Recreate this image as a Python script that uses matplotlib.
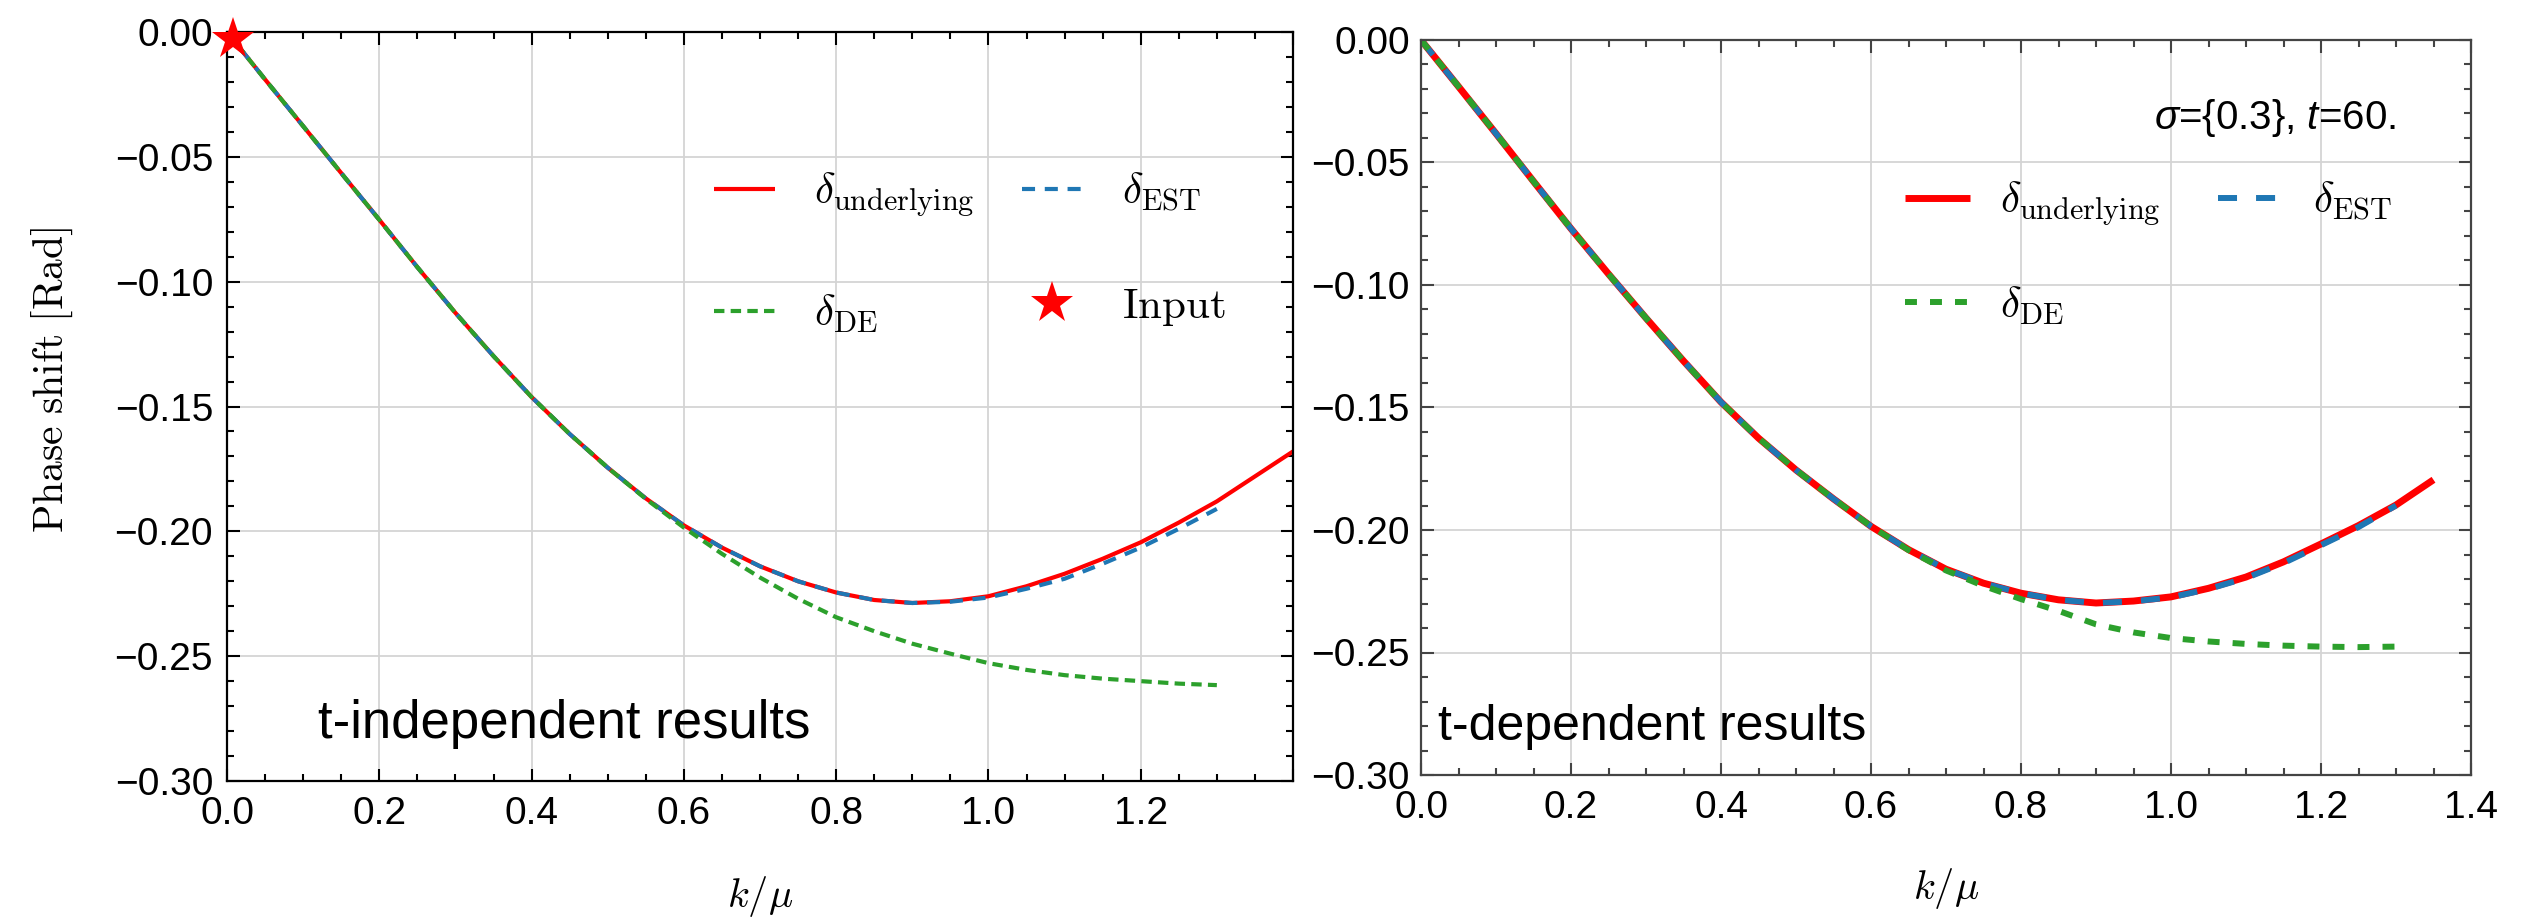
import matplotlib
matplotlib.use('Agg')
import matplotlib.pyplot as plt
from matplotlib.ticker import MultipleLocator, FixedLocator, FixedFormatter

plt.rcParams['mathtext.fontset'] = 'cm'
plt.rcParams['font.family'] = ['Liberation Sans', 'DejaVu Sans']
plt.rcParams['lines.scale_dashes'] = False
plt.rcParams['mathtext.rm'] = 'Liberation Sans'
plt.rcParams['mathtext.it'] = 'Liberation Sans:italic'

# ---------------- data: left panel (t-independent) ----------------
k_left = [0.00, 0.05, 0.10, 0.15, 0.20, 0.25, 0.30, 0.35, 0.40, 0.45, 0.50,
          0.55, 0.60, 0.65, 0.70, 0.75, 0.80, 0.85, 0.90, 0.95, 1.00, 1.05,
          1.10, 1.15, 1.20, 1.25, 1.30, 1.35, 1.40]
under_left = [0.0, -0.019, -0.0377, -0.0565, -0.0752, -0.0942, -0.1125, -0.1298,
              -0.1462, -0.1610, -0.1745, -0.1868, -0.1976, -0.2065, -0.2140,
              -0.2200, -0.2245, -0.2275, -0.2287, -0.2280, -0.2260, -0.2220,
              -0.2170, -0.2110, -0.2044, -0.1965, -0.1880, -0.1780, -0.1680]
k_left_est = [0.00, 0.05, 0.10, 0.15, 0.20, 0.25, 0.30, 0.35, 0.40, 0.45, 0.50,
              0.55, 0.60, 0.65, 0.70, 0.75, 0.80, 0.85, 0.90, 0.95, 1.00, 1.05,
              1.10, 1.15, 1.20, 1.25, 1.30]
est_left = [0.0, -0.019, -0.0377, -0.0565, -0.0752, -0.0942, -0.1125, -0.1298,
            -0.1462, -0.1610, -0.1745, -0.1868, -0.1976, -0.2065, -0.2140,
            -0.2200, -0.2245, -0.2275, -0.2287, -0.2282, -0.2265, -0.2230,
            -0.2190, -0.2130, -0.2065, -0.1990, -0.1910]
de_left = [0.0, -0.019, -0.0377, -0.0565, -0.0752, -0.0942, -0.1125, -0.1298,
           -0.1462, -0.1610, -0.1745, -0.1870, -0.1985, -0.2090, -0.2185,
           -0.2270, -0.2344, -0.2400, -0.2450, -0.2490, -0.2528, -0.2555,
           -0.2576, -0.2590, -0.2600, -0.2610, -0.2616]
input_k = [0.008]
input_delta = [-0.003]

# ---------------- data: right panel (t-dependent) ----------------
k_right = [0.00, 0.05, 0.10, 0.15, 0.20, 0.25, 0.30, 0.35, 0.40, 0.45, 0.50,
           0.55, 0.60, 0.65, 0.70, 0.75, 0.80, 0.85, 0.90, 0.95, 1.00, 1.05,
           1.10, 1.15, 1.20, 1.25, 1.30, 1.35]
under_right = [0.0, -0.0190, -0.0382, -0.0577, -0.0770, -0.0955, -0.1135, -0.1310,
               -0.1478, -0.1625, -0.1755, -0.1873, -0.1985, -0.2080, -0.2160,
               -0.2217, -0.2258, -0.2285, -0.2298, -0.2290, -0.2273, -0.2238,
               -0.2192, -0.2130, -0.2057, -0.1982, -0.1898, -0.1795]
k_right_short = [0.00, 0.05, 0.10, 0.15, 0.20, 0.25, 0.30, 0.35, 0.40, 0.45, 0.50,
                 0.55, 0.60, 0.65, 0.70, 0.75, 0.80, 0.85, 0.90, 0.95, 1.00, 1.05,
                 1.10, 1.15, 1.20, 1.25, 1.30]
est_right = [0.0, -0.0190, -0.0382, -0.0577, -0.0770, -0.0955, -0.1135, -0.1310,
             -0.1478, -0.1625, -0.1755, -0.1873, -0.1985, -0.2080, -0.2160,
             -0.2217, -0.2258, -0.2285, -0.2298, -0.2291, -0.2275, -0.2241,
             -0.2196, -0.2135, -0.2062, -0.1988, -0.1900]
de_right = [0.0, -0.0190, -0.0382, -0.0577, -0.0770, -0.0955, -0.1135, -0.1310,
            -0.1478, -0.1625, -0.1755, -0.1873, -0.1985, -0.2082, -0.2165,
            -0.2228, -0.2282, -0.2330, -0.2385, -0.2418, -0.2441, -0.2455,
            -0.2465, -0.2472, -0.2476, -0.2478, -0.2476]

# ---------------- ticks / labels ----------------
x_ticks = [0.0, 0.2, 0.4, 0.6, 0.8, 1.0, 1.2, 1.4]
x_labels_left = ['0.0', '0.2', '0.4', '0.6', '0.8', '1.0', '1.2', '']
x_labels_right = ['0.0', '0.2', '0.4', '0.6', '0.8', '1.0', '1.2', '1.4']
y_ticks = [0.0, -0.05, -0.10, -0.15, -0.20, -0.25, -0.30]
y_labels = ['0.00', '\u22120.05', '\u22120.10', '\u22120.15', '\u22120.20',
            '\u22120.25', '\u22120.30']

RED = '#ff0000'
BLUE = '#1f77b4'
GREEN = '#2ca02c'

fig = plt.figure(figsize=(25.24, 9.18), dpi=100)
axL = fig.add_axes([227 / 2524, (918 - 781) / 918, 1066 / 2524, 749 / 918])
axR = fig.add_axes([1421 / 2524, (918 - 775) / 918, 1050 / 2524, 735 / 918])


def style_axes(ax, xlabels, frame_color, pad_y):
    ax.set_xlim(0, 1.4)
    ax.set_ylim(-0.30, 0.0)
    ax.xaxis.set_major_locator(FixedLocator(x_ticks))
    ax.xaxis.set_major_formatter(FixedFormatter(xlabels))
    ax.yaxis.set_major_locator(FixedLocator(y_ticks))
    ax.yaxis.set_major_formatter(FixedFormatter(y_labels))
    ax.xaxis.set_minor_locator(MultipleLocator(0.05))
    ax.yaxis.set_minor_locator(MultipleLocator(0.01))
    ax.tick_params(which='both', direction='in', top=True, right=True,
                   color=frame_color, width=1.5)
    ax.tick_params(which='major', length=9)
    ax.tick_params(which='minor', length=5)
    ax.tick_params(axis='x', which='major', labelsize=28, pad=11)
    ax.tick_params(axis='y', which='major', labelsize=28, pad=pad_y)
    for s in ax.spines.values():
        s.set_color(frame_color)
        s.set_linewidth(1.6)
    ax.grid(True, which='major', color='#d4d4d4', linewidth=1.3)
    ax.set_axisbelow(True)
    ax.set_xlabel(r'$k/\mu$', fontsize=29)
    ax.xaxis.set_label_coords(0.5, -0.124)


style_axes(axL, x_labels_left, 'black', 10)
style_axes(axR, x_labels_right, '#444444', 8)

# ---- left panel curves ----
lL1, = axL.plot(k_left, under_left, color=RED, lw=3.0, solid_capstyle='butt',
                label=r'$\delta_{\mathrm{underlying}}$')
lL2, = axL.plot(k_left_est, est_left, color=BLUE, lw=3.0, dashes=(9.4, 7.0),
                label=r'$\delta_{\mathrm{EST}}$')
lL3, = axL.plot(k_left_est, de_left, color=GREEN, lw=3.0, dashes=(7.5, 4.5),
                label=r'$\delta_{\mathrm{DE}}$')
lL4, = axL.plot(input_k, input_delta, linestyle='none', marker='*', markersize=32,
                color=RED, markeredgewidth=0, clip_on=False, zorder=5,
                label=r'$\mathrm{Input}$')

axL.set_ylabel(r'$\mathrm{Phase\ shift\ [Rad]}$', fontsize=30)
axL.yaxis.set_label_coords(-0.143, 0.535)

legL = axL.legend(handles=[lL1, lL3, lL2, lL4], ncol=2, loc='upper left',
                  bbox_to_anchor=(0.457, 0.815), frameon=False, fontsize=31,
                  borderpad=0, borderaxespad=0, handlelength=1.42,
                  handletextpad=0.9, columnspacing=1.1, labelspacing=1.7,
                  markerscale=1.0)

axL.text(0.0854, 0.057, 't-independent results', transform=axL.transAxes,
         fontsize=38, ha='left', va='baseline')

# ---- right panel curves ----
lR1, = axR.plot(k_right, under_right, color=RED, lw=5.0, solid_capstyle='butt',
                label=r'$\delta_{\mathrm{underlying}}$')
lR2, = axR.plot(k_right_short, est_right, color=BLUE, lw=4.3, dashes=(13.7, 13.7),
                label=r'$\delta_{\mathrm{EST}}$')
lR3, = axR.plot(k_right_short, de_right, color=GREEN, lw=4.3, dashes=(8.6, 9.4),
                label=r'$\delta_{\mathrm{DE}}$')

legR = axR.legend(handles=[lR1, lR3, lR2], ncol=2, loc='upper left',
                  bbox_to_anchor=(0.461, 0.81), frameon=False, fontsize=31,
                  borderpad=0, borderaxespad=0, handlelength=1.5,
                  handletextpad=0.7, columnspacing=1.35, labelspacing=1.3)

axR.text(0.0162, 0.048, 't-dependent results', transform=axR.transAxes,
         fontsize=36, ha='left', va='baseline')
axR.text(0.9286, 0.894, r'$\sigma$={0.3}, $t$=60.', transform=axR.transAxes,
         fontsize=29, ha='right', va='center', math_fontfamily='custom')

fig.savefig('out.png', dpi=100)
